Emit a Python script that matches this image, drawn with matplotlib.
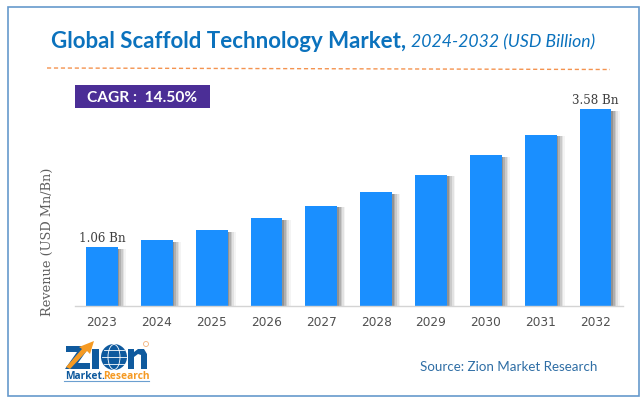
import numpy as np
import matplotlib
matplotlib.use('Agg')
import matplotlib.pyplot as plt
from matplotlib.patches import Rectangle, Circle, Polygon, Ellipse

years = ['2023', '2024', '2025', '2026', '2027', '2028', '2029', '2030', '2031', '2032']
revenue = [1.06, 1.19, 1.37, 1.59, 1.82, 2.07, 2.39, 2.74, 3.12, 3.58]
first_label = '1.06 Bn'
last_label = '3.58 Bn'

W, H = 641, 406
fig = plt.figure(figsize=(W / 100, H / 100), dpi=100, facecolor='white')

# overlay in pixel coordinates, for the frame, header and logo
bg = fig.add_axes([0, 0, 1, 1], zorder=0)
bg.set_xlim(0, W)
bg.set_ylim(H, 0)
bg.axis('off')

ax = fig.add_axes([74.5 / W, 1 - 306.5 / H, 548.5 / W, 216 / H], zorder=1)
ax.patch.set_alpha(0)

x = np.arange(len(years))
bw = 0.58

# soft shadow to the right of each bar
for dx, a in zip([0.15, 0.12, 0.09, 0.06, 0.03], [0.06, 0.10, 0.15, 0.20, 0.28]):
    ax.bar(x + dx, np.array(revenue) - 0.03, width=bw, color='#444444', alpha=a, linewidth=0)
ax.bar(x, revenue, width=bw, color='#1a8fff', linewidth=0)

ax.set_xlim(-0.5, 9.5)
ax.set_ylim(0, 216 / 54.75)
ax.set_yticks([])
ax.set_xticks(x)
ax.set_xticklabels(years, fontsize=8.7, color='#505050', family='DejaVu Sans')
ax.tick_params(axis='x', length=0, pad=6.5)
for s in ['top', 'right', 'left']:
    ax.spines[s].set_visible(False)
ax.spines['bottom'].set_color('#d4d4d4')
ax.spines['bottom'].set_linewidth(1)

ax.text(x[0], revenue[0] + 0.07, first_label, ha='center', va='bottom', fontsize=8.6,
        family='DejaVu Serif', color='#404040')
ax.text(x[-1], revenue[-1] + 0.07, last_label, ha='center', va='bottom', fontsize=8.6,
        family='DejaVu Serif', color='#404040')

bg.text(47, 242, 'Revenue (USD Mn/Bn)', rotation=90, ha='center', va='center', fontsize=9.3,
        family='DejaVu Serif', color='#606060')

# frame
bg.add_patch(Rectangle((7.5, 7.5), 631, 389.5, fill=False, edgecolor='#6699cc', linewidth=1.2))

# title
bg.text(51, 41.5, 'Global Scaffold Technology Market,', ha='left', va='center', fontsize=16,
        fontweight='bold', family='Lato', color='#0b72bd')
bg.text(411, 42.5, '2024-2032 (USD Billion)', ha='left', va='center', fontsize=12.7,
        style='italic', family='Lato', color='#0b72bd')

bg.plot([47, 610], [69, 70.5], color='#f4934f', linewidth=1, dashes=(3, 2))

# CAGR box
bg.add_patch(Rectangle((75, 86), 135, 23, facecolor='#4b2e96', edgecolor='none'))
bg.text(142, 98.5, 'CAGR :  14.50%', ha='center', va='center', fontsize=11.2,
        fontweight='bold', family='Lato', color='white')

# source
bg.text(420, 367, 'Source: Zion Market Research', ha='left', va='center', fontsize=9.6,
        family='Lato', color='#2f6ea5')

# logo
navy = '#0f5a9e'
orange = '#f59a23'
bg.add_patch(Polygon([(66, 347), (90, 347), (78, 364), (90, 364), (90, 370), (65, 370), (77, 353), (66, 353)],
                     facecolor=navy, edgecolor='none'))
bg.add_patch(Polygon([(66, 368), (82, 350), (79, 348), (94, 342), (90, 355), (87, 352), (70, 370)],
                     facecolor=orange, edgecolor='none'))
bg.add_patch(Rectangle((92, 350), 7, 20, facecolor=navy, edgecolor='none'))
bg.add_patch(Circle((114, 358), 13, facecolor=navy, edgecolor='none'))
bg.add_patch(Ellipse((114, 358), 12, 25, fill=False, edgecolor='white', linewidth=0.6))
bg.plot([101.5, 126.5], [358, 358], color='white', linewidth=0.6)
bg.plot([104, 124], [351, 351], color='white', linewidth=0.6)
bg.plot([104, 124], [365, 365], color='white', linewidth=0.6)
# the n of the logo, drawn so that it stays clear of the line below it
bg.add_patch(Rectangle((128, 350), 6, 20, facecolor=navy, edgecolor='none'))
bg.add_patch(Rectangle((141, 355), 6, 15, facecolor=navy, edgecolor='none'))
bg.add_patch(Polygon([(134, 353), (138, 350), (144, 350), (147, 355), (141, 356), (138, 355), (134, 358)],
                     facecolor=navy, edgecolor='none'))
bg.add_patch(Circle((146, 345), 2.5, fill=False, edgecolor='#f3b27a', linewidth=0.6))
bg.text(65, 377, 'Market.', ha='left', va='center', fontsize=7.4, fontweight='bold',
        family='Open Sans', color=navy)
bg.text(103, 377, 'Research', ha='left', va='center', fontsize=7.4, fontweight='bold',
        family='Open Sans', color=orange)
bg.plot([64, 149], [382, 382], color='#6b9fd0', linewidth=0.8)

fig.savefig('out.png', dpi=100)
